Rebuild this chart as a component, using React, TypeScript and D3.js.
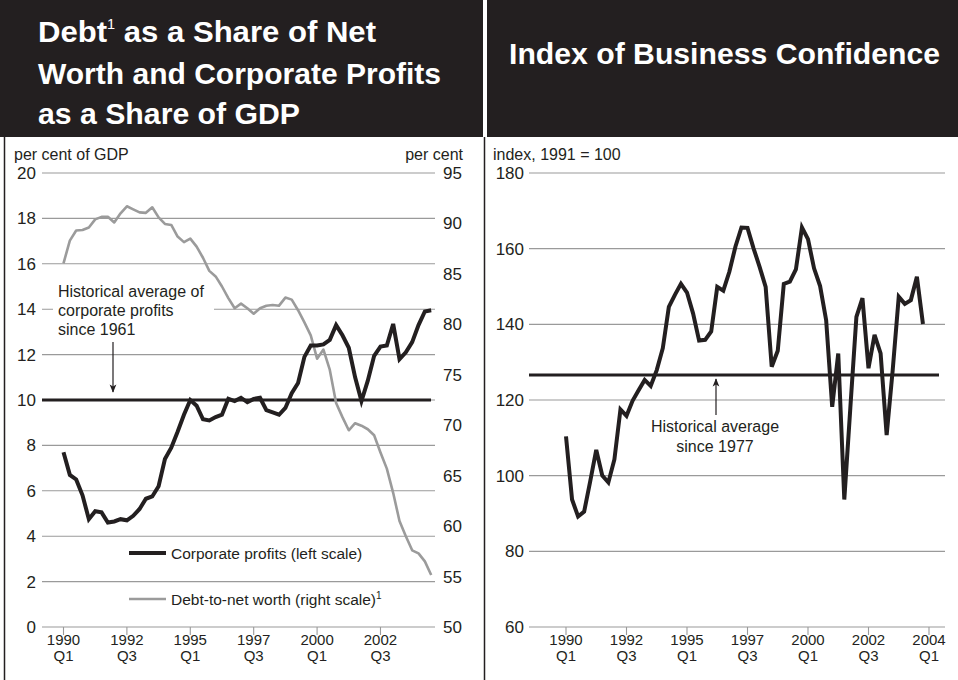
import React from "react";
import * as d3 from "d3";

// Left panel: quarterly, 1990Q1 .. 2004Q3
const profits = [
  7.7, 6.7, 6.5, 5.8, 4.75, 5.1, 5.05, 4.6, 4.65, 4.75,
  4.7, 4.9, 5.2, 5.65, 5.75, 6.2, 7.4, 7.9, 8.6, 9.35,
  10.0, 9.75, 9.15, 9.1, 9.25, 9.35, 10.05, 9.95, 10.1, 9.9,
  10.05, 10.1, 9.55, 9.45, 9.35, 9.65, 10.3, 10.75, 11.9, 12.4,
  12.4, 12.45, 12.65, 13.3, 12.85, 12.3, 11.0, 9.95, 10.85, 11.95,
  12.35, 12.4, 13.35, 11.8, 12.1, 12.55, 13.3, 13.9, 13.95,
];
const debtNetWorth = [
  86.05, 88.3, 89.3, 89.35, 89.6, 90.4, 90.65, 90.67, 90.1, 91.0,
  91.7, 91.4, 91.1, 91.05, 91.6, 90.6, 89.95, 89.85, 88.7, 88.15,
  88.5, 87.7, 86.6, 85.3, 84.75, 83.75, 82.6, 81.6, 82.05, 81.6,
  81.05, 81.6, 81.85, 81.92, 81.85, 82.65, 82.45, 81.4, 80.2, 78.9,
  76.6, 77.5, 75.5, 72.2, 70.8, 69.5, 70.2, 69.95, 69.6, 69.0,
  67.3, 65.7, 63.3, 60.5, 59.0, 57.6, 57.3, 56.5, 55.15,
];
// Right panel: quarterly, 1990Q1 .. 2004Q4
const confidence = [
  110.4, 93.7, 89.2, 90.5, 98.5, 106.8, 100.0, 98.2, 104.3, 117.5,
  115.8, 119.8, 122.6, 125.3, 123.7, 127.9, 133.7, 144.6, 147.8, 150.7,
  148.4, 142.9, 135.7, 135.9, 138.1, 149.9, 148.9, 153.9, 160.5, 165.6,
  165.5, 160.1, 155.2, 149.9, 128.8, 133.0, 150.7, 151.3, 154.5, 165.6,
  162.5, 154.8, 150.1, 141.1, 118.2, 132.3, 93.7, 118.0, 142.0, 146.9,
  128.4, 137.2, 132.3, 110.75, 127.9, 147.3, 145.4, 146.4, 152.6, 140.1,
];

const profitsAverage = 10;
const confidenceAverage = 126.6;

const leftTicksY = [0, 2, 4, 6, 8, 10, 12, 14, 16, 18, 20];
const rightTicksY = [50, 55, 60, 65, 70, 75, 80, 85, 90, 95];
const confTicksY = [60, 80, 100, 120, 140, 160, 180];
const xTickIdx = [0, 10, 20, 30, 40, 50, 60];
const xTickYears = ["1990", "1992", "1995", "1997", "2000", "2002", "2004"];
const xTickQuarters = ["Q1", "Q3", "Q1", "Q3", "Q1", "Q3", "Q1"];

const DARK = "#231f20";
const GRID = "#9a9a9a";
const GREY_LINE = "#9b9b9b";
const FONT = "'Liberation Sans', Arial, Helvetica, sans-serif";
const TFONT = "'Liberation Sans Narrow', 'Liberation Sans', Arial, sans-serif";

export default function App() {
  // scales
  const xL = d3.scaleLinear().domain([0, 58]).range([63.5, 431.2]);
  const yL = d3.scaleLinear().domain([0, 20]).range([627, 173]);
  const yR = d3.scaleLinear().domain([50, 95]).range([627, 173]);
  const xC = d3.scaleLinear().domain([0, 59]).range([566, 922.95]);
  const yC = d3.scaleLinear().domain([60, 180]).range([627, 173]);

  const profitLine = d3.line<number>().x((_, i) => xL(i)).y((d) => yL(d));
  const debtLine = d3.line<number>().x((_, i) => xL(i)).y((d) => yR(d));
  const confLine = d3.line<number>().x((_, i) => xC(i)).y((d) => yC(d));

  const leftGridX: [number, number] = [42, 435];
  const rightGridX: [number, number] = [529, 945];

  return (
    <svg
      width={958}
      height={680}
      viewBox="0 0 958 680"
      style={{ position: "absolute", left: 0, top: 0, display: "block", background: "#fff" }}
    >
      <defs>
        <marker id="arrowDown" viewBox="0 0 10 10" refX="9" refY="5" markerWidth="7" markerHeight="7" orient="auto">
          <path d="M0,1 L10,5 L0,9 L2.5,5 Z" fill={DARK} />
        </marker>
      </defs>
      <rect x={0} y={0} width={958} height={680} fill="#fff" />

      {/* Title bands */}
      <rect x={0} y={0} width={483} height={137} fill={DARK} />
      <rect x={487} y={0} width={471} height={137} fill={DARK} />

      {/* panel borders */}
      <line x1={4.5} x2={4.5} y1={137} y2={680} stroke={DARK} strokeWidth={1.5} />
      <line x1={484.5} x2={484.5} y1={137} y2={680} stroke={DARK} strokeWidth={1.5} />

      {/* Titles */}
      <g fill="#fff" fontFamily={TFONT} fontWeight="bold" fontSize={30}>
        <text x={38} y={42} textLength={338} lengthAdjust="spacingAndGlyphs">
          Debt<tspan fontSize={14} fontWeight="normal" dy={-13}>1</tspan>
          <tspan dy={13}> as a Share of Net</tspan>
        </text>
        <text x={38} y={84} textLength={403} lengthAdjust="spacingAndGlyphs">Worth and Corporate Profits</text>
        <text x={38} y={124} textLength={262} lengthAdjust="spacingAndGlyphs">as a Share of GDP</text>
        <text x={509} y={64} textLength={431} lengthAdjust="spacingAndGlyphs">Index of Business Confidence</text>
      </g>

      {/* ---------------- LEFT CHART ---------------- */}
      <g fontFamily={FONT} fill={DARK}>
        <text x={14} y={160} fontSize={16}>per cent of GDP</text>
        <text x={463} y={160} fontSize={16} textAnchor="end">per cent</text>
      </g>
      {leftTicksY.map((t) => (
        <g key={"lg" + t}>
          <line x1={leftGridX[0]} x2={leftGridX[1]} y1={yL(t)} y2={yL(t)} stroke={GRID} strokeWidth={1.1} />
          <text x={36} y={yL(t) + 6} fontSize={17} textAnchor="end" fontFamily={FONT} fill={DARK}>
            {t}
          </text>
        </g>
      ))}
      {rightTicksY.map((t) => (
        <text key={"rt" + t} x={443} y={yR(t) + 6} fontSize={17} fontFamily={FONT} fill={DARK}>
          {t}
        </text>
      ))}
      {/* x ticks left */}
      {xTickIdx.slice(0, 6).map((idx, k) => (
        <g key={"lx" + idx} fontFamily={FONT} fill={DARK} fontSize={15} textAnchor="middle">
          <line x1={xL(idx)} x2={xL(idx)} y1={627} y2={635} stroke={GRID} strokeWidth={1.1} />
          <text x={xL(idx)} y={645}>{xTickYears[k]}</text>
          <text x={xL(idx)} y={661}>{xTickQuarters[k]}</text>
        </g>
      ))}

      {/* annotation box */}
      <rect x={53} y={281} width={161} height={60} fill="#fff" />
      <g fontFamily={FONT} fontSize={16} fill={DARK}>
        <text x={58} y={297}>Historical average of</text>
        <text x={58} y={316}>corporate profits</text>
        <text x={58} y={335}>since 1961</text>
      </g>
      <line x1={113} x2={113} y1={342} y2={392} stroke={DARK} strokeWidth={1.2} markerEnd="url(#arrowDown)" />

      {/* average line */}
      <line x1={42} x2={431} y1={yL(profitsAverage)} y2={yL(profitsAverage)} stroke={DARK} strokeWidth={3} />

      <path d={debtLine(debtNetWorth) || ""} fill="none" stroke={GREY_LINE} strokeWidth={2.6} strokeLinejoin="round" />
      <path d={profitLine(profits) || ""} fill="none" stroke={DARK} strokeWidth={4} strokeLinejoin="miter" />

      {/* legend */}
      <line x1={129} x2={166} y1={553} y2={553} stroke={DARK} strokeWidth={4} />
      <text x={171} y={559} fontSize={15.5} fontFamily={FONT} fill={DARK}>Corporate profits (left scale)</text>
      <line x1={129} x2={166} y1={599} y2={599} stroke={GREY_LINE} strokeWidth={2.6} />
      <text x={171} y={605} fontSize={15.5} fontFamily={FONT} fill={DARK}>
        Debt-to-net worth (right scale)
        <tspan fontSize={10} dy={-6}>1</tspan>
      </text>

      {/* ---------------- RIGHT CHART ---------------- */}
      <text x={493} y={160} fontSize={16} fontFamily={FONT} fill={DARK}>index, 1991 = 100</text>
      {confTicksY.map((t) => (
        <g key={"cg" + t}>
          <line x1={rightGridX[0]} x2={rightGridX[1]} y1={yC(t)} y2={yC(t)} stroke={GRID} strokeWidth={1.1} />
          <text x={524} y={yC(t) + 6} fontSize={17} textAnchor="end" fontFamily={FONT} fill={DARK}>
            {t}
          </text>
        </g>
      ))}
      {xTickIdx.map((idx, k) => (
        <g key={"cx" + idx} fontFamily={FONT} fill={DARK} fontSize={15} textAnchor="middle">
          <line x1={xC(idx)} x2={xC(idx)} y1={627} y2={635} stroke={GRID} strokeWidth={1.1} />
          <text x={xC(idx)} y={645}>{xTickYears[k]}</text>
          <text x={xC(idx)} y={661}>{xTickQuarters[k]}</text>
        </g>
      ))}

      <line x1={529} x2={939} y1={yC(confidenceAverage)} y2={yC(confidenceAverage)} stroke={DARK} strokeWidth={3} />
      <line x1={716} x2={716} y1={415} y2={379} stroke={DARK} strokeWidth={1.2} markerEnd="url(#arrowDown)" />
      <g fontFamily={FONT} fontSize={16} fill={DARK} textAnchor="middle">
        <text x={715} y={432}>Historical average</text>
        <text x={715} y={452}>since 1977</text>
      </g>

      <path d={confLine(confidence) || ""} fill="none" stroke={DARK} strokeWidth={4} strokeLinejoin="miter" />
    </svg>
  );
}
